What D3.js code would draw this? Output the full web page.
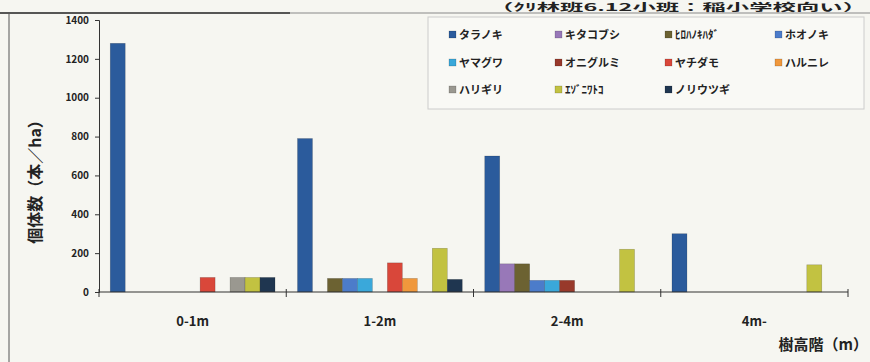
<!DOCTYPE html>
<html>
<head>
<meta charset="utf-8">
<script src="https://cdn.jsdelivr.net/npm/d3@7.9.0/dist/d3.min.js"></script>
<style>
  body { margin: 0; background: #f6f6f1; }
  svg { display: block; }
  text { font-family: "Noto Sans CJK JP", "Noto Sans", sans-serif; fill: #222; }
</style>
</head>
<body>
<svg id="chart" width="870" height="362"></svg>
<script>
const categories = ['0-1m', '1-2m', '2-4m', '4m-'];
const species = ['タラノキ', 'キタコブシ', 'ﾋﾛﾊﾉｷﾊﾀﾞ', 'ホオノキ', 'ヤマグワ', 'オニグルミ',
  'ヤチダモ', 'ハルニレ', 'ハリギリ', 'ｴｿﾞﾆﾜﾄｺ', 'ノリウツギ'];
const taranoki = [1280, 790, 700, 300];
const kitakobushi = [0, 0, 145, 0];
const hirohanokihada = [0, 70, 145, 0];
const hoonoki = [0, 70, 60, 0];
const yamaguwa = [0, 70, 60, 0];
const onigurumi = [0, 0, 60, 0];
const yachidamo = [75, 150, 0, 0];
const harunire = [0, 70, 0, 0];
const harigiri = [75, 0, 0, 0];
const ezoniwatoko = [75, 225, 220, 140];
const noriutsugi = [75, 65, 0, 0];
const yTicks = [0, 200, 400, 600, 800, 1000, 1200, 1400];
const colors = ['#2b5b9c', '#9878b8', '#6c6232', '#4c7cca', '#3aa8da', '#98392b',
  '#d9473a', '#f0983c', '#9a9890', '#c2c241', '#1f3650'];

const values = [taranoki, kitakobushi, hirohanokihada, hoonoki, yamaguwa, onigurumi,
  yachidamo, harunire, harigiri, ezoniwatoko, noriutsugi];

const svg = d3.select('#chart');
const plotL = 99, plotR = 848, plotT = 20, plotB = 292;

// frame + title (top strip)
svg.append('text')
  .attr('x', 490).attr('y', 11)
  .attr('textLength', 376).attr('lengthAdjust', 'spacingAndGlyphs')
  .style('font-size', '10.5px').style('font-weight', 'bold')
  .text('（ｸﾘ林班6.12小班：稲小学校向い）');
svg.append('line').attr('x1', 0).attr('x2', 870).attr('y1', 13).attr('y2', 13)
  .attr('stroke', '#888').attr('stroke-width', 1);
svg.append('line').attr('x1', 0).attr('x2', 290).attr('y1', 13).attr('y2', 13)
  .attr('stroke', '#333').attr('stroke-width', 1.5);
svg.append('line').attr('x1', 9).attr('x2', 9).attr('y1', 13).attr('y2', 362)
  .attr('stroke', '#555').attr('stroke-width', 1);

const x0 = d3.scaleBand().domain(categories).range([plotL, plotR]).paddingInner(0).paddingOuter(0);
const x1 = d3.scaleBand().domain(d3.range(species.length))
  .range([0, x0.bandwidth()]).paddingOuter(0.75).paddingInner(0);
const y = d3.scaleLinear().domain([0, 1400]).range([plotB, plotT]);

// bars
categories.forEach((c, ci) => {
  const g = svg.append('g').attr('transform', `translate(${x0(c)},0)`);
  g.selectAll('rect')
    .data(values.map((s, si) => ({ si, v: s[ci] })).filter(d => d.v > 0))
    .join('rect')
    .attr('x', d => x1(d.si))
    .attr('width', x1.bandwidth())
    .attr('y', d => y(d.v))
    .attr('height', d => plotB - y(d.v))
    .attr('fill', d => colors[d.si])
    .attr('stroke', 'rgba(0,0,0,0.25)')
    .attr('stroke-width', 0.6);
});

// y axis
const yAxis = svg.append('g').attr('transform', `translate(${plotL},0)`)
  .call(d3.axisLeft(y).tickValues(yTicks).tickFormat(d3.format('d')).tickSize(4).tickPadding(6));
yAxis.select('.domain').attr('stroke', '#333');
yAxis.selectAll('.tick line').attr('stroke', '#333');
yAxis.selectAll('text').style('font-size', '10px').style('font-weight', 'bold').attr('fill', '#333');

// x axis
const xAxis = svg.append('g').attr('transform', `translate(0,${plotB})`);
xAxis.append('line').attr('x1', plotL).attr('x2', plotR).attr('y1', 0).attr('y2', 0)
  .attr('stroke', '#333').attr('stroke-width', 1.2);
xAxis.selectAll('line.tk')
  .data(categories.map(c => x0(c)).concat([plotR]))
  .join('line').attr('class', 'tk')
  .attr('x1', d => d).attr('x2', d => d).attr('y1', -3).attr('y2', 5)
  .attr('stroke', '#333');
xAxis.selectAll('text')
  .data(categories)
  .join('text')
  .attr('x', d => x0(d) + x0.bandwidth() / 2)
  .attr('y', 34)
  .attr('text-anchor', 'middle')
  .style('font-size', '13px').style('font-weight', 'bold')
  .text(d => d);

// axis titles
svg.append('text')
  .attr('transform', 'translate(41,178) rotate(-90)')
  .attr('text-anchor', 'middle')
  .style('font-size', '16px').style('font-weight', 'bold')
  .text('個体数（本／ha）');
svg.append('text')
  .attr('x', 868).attr('y', 350)
  .attr('text-anchor', 'end')
  .style('font-size', '15px').style('font-weight', 'bold')
  .text('樹高階（m）');

// legend
svg.append('rect').attr('x', 428).attr('y', 17).attr('width', 436).attr('height', 92)
  .attr('fill', '#f9f9f5').attr('stroke', '#ccc');
const legendCols = [449, 555, 665, 775];
const legendRows = [35, 63, 90];
const leg = svg.append('g').selectAll('g')
  .data(species)
  .join('g')
  .attr('transform', (d, i) => `translate(${legendCols[i % 4]},${legendRows[Math.floor(i / 4)]})`);
leg.append('rect').attr('x', 0).attr('y', -4).attr('width', 7).attr('height', 7)
  .attr('fill', (d, i) => colors[i]).attr('stroke', 'rgba(0,0,0,0.3)').attr('stroke-width', 0.5);
leg.append('text').attr('x', 10).attr('y', 4)
  .style('font-size', '11px').style('font-weight', 'bold')
  .attr('fill', '#333')
  .text(d => d);
</script>
</body>
</html>
